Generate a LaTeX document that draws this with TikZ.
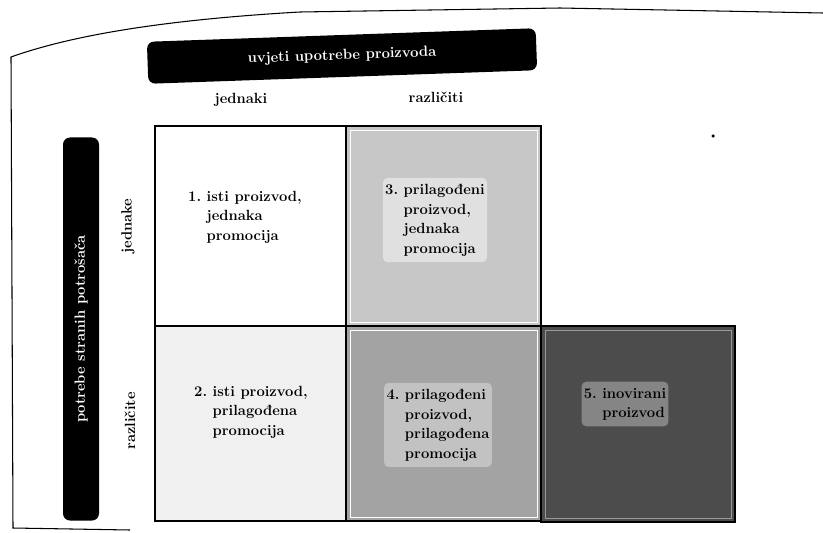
\documentclass[tikz,border=0pt]{standalone}
\begin{document}
\begin{tikzpicture}[x=0.03cm,y=-0.03cm,
    lbl/.style={font=\fontsize{12.6}{17}\selectfont\bfseries},
    bar/.style={lbl,fill=black,text=white,rounded corners=6pt},
    celltxt/.style={lbl,align=left,inner sep=2pt,rounded corners=4pt}]
\useasboundingbox (0,0) rectangle (823,532);
% page frame
\draw[line width=0.9pt] (130,530) -- (13,528) -- (11,57)
  .. controls (70,36) and (160,20) .. (300,12) -- (560,8) -- (823,13);
% axis bars
\node[bar,minimum width=11.67cm,minimum height=1.26cm,rotate=2] (uvjeti) at (342,56) {uvjeti upotrebe proizvoda};
\node[bar,minimum width=11.49cm,minimum height=1.08cm,rotate=90] (potrebe) at (81,329) {potrebe stranih potrošača};
% column and row heads
\node[lbl] (jednaki) at (241,100) {jednaki};
\node[lbl] (razliciti) at (436,97) {različiti};
\node[lbl,rotate=90] (jednake) at (128,226) {jednake};
\node[lbl,rotate=90] (razlicite) at (130,421) {različite};
% cells
\filldraw[line width=0.9pt,fill=white] (155,126) rectangle (346,326);
\filldraw[line width=0.9pt,fill=black!22] (346,126) rectangle (541,326);
\filldraw[line width=0.9pt,fill=black!6] (155,326) rectangle (346,521);
\filldraw[line width=0.9pt,fill=black!36] (346,326) rectangle (541,521);
\filldraw[line width=0.9pt,fill=black!70] (541,326) rectangle (735,522);
% thin white inner edges
\draw[white,line width=0.5pt] (350,130) rectangle (537,322);
\draw[white,line width=0.5pt] (350,330) rectangle (537,517);
\draw[black!40,line width=0.5pt] (545,330) rectangle (731,518);
% cell texts
\node[celltxt] (t1) at (245,217) {\begin{tabular}{@{}l@{\ }l@{}}1. & isti proizvod,\\ & jednaka\\ & promocija\end{tabular}};
\node[celltxt] (t2) at (251,412) {\begin{tabular}{@{}l@{\ }l@{}}2. & isti proizvod,\\ & prilagođena\\ & promocija\end{tabular}};
\node[celltxt,fill=black!12] (t3) at (435,220) {\begin{tabular}{@{}l@{\ }l@{}}3. & prilagođeni\\ & proizvod,\\ & jednaka\\ & promocija\end{tabular}};
\node[celltxt,fill=black!24] (t4) at (438,425) {\begin{tabular}{@{}l@{\ }l@{}}4. & prilagođeni\\ & proizvod,\\ & prilagođena\\ & promocija\end{tabular}};
\node[celltxt,fill=black!48] (t5) at (625,404) {\begin{tabular}{@{}l@{\ }l@{}}5. & inovirani\\ & proizvod\end{tabular}};
% speck
\fill (713,136) circle (1.5pt);
\end{tikzpicture}
\end{document}
